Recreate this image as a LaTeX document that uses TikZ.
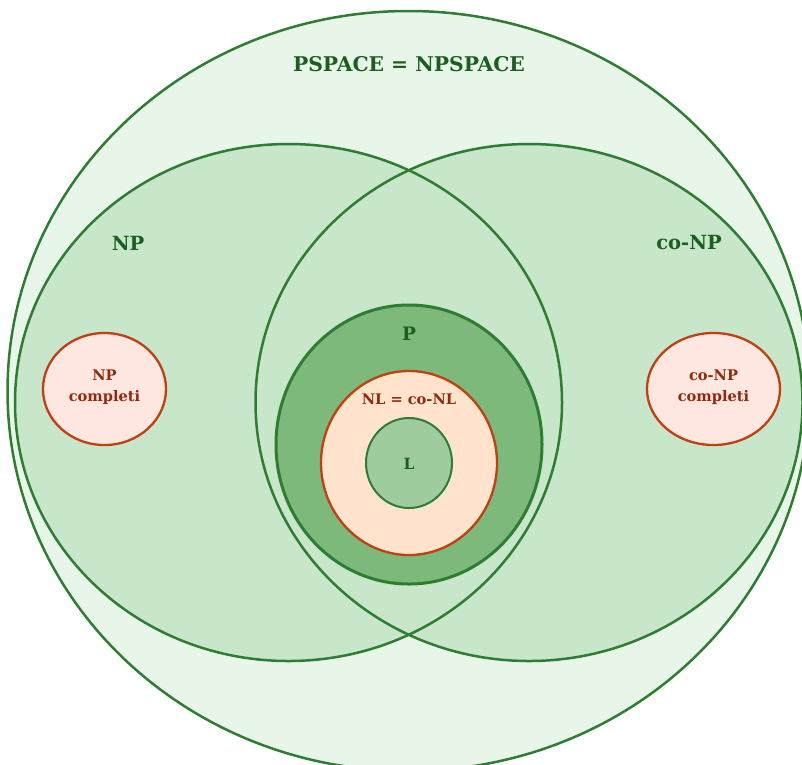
\documentclass[tikz,border=0pt]{standalone}
\usepackage{fontspec}
\setmainfont{DejaVu Serif}
\definecolor{gstroke}{HTML}{2E7D32}
\definecolor{gtext}{HTML}{1B5E20}
\definecolor{outerfill}{HTML}{E8F5E9}
\definecolor{npfill}{HTML}{C8E6C9}
\definecolor{pfill}{HTML}{7CB97A}
\definecolor{lfill}{HTML}{9FCC9C}
\definecolor{nlfill}{HTML}{FFE3CC}
\definecolor{cfill}{HTML}{FFE7E1}
\definecolor{rstroke}{HTML}{BF4010}
\definecolor{rtext}{HTML}{8F2A0C}
\begin{document}
\begin{tikzpicture}[x=1pt,y=-1pt,
  gline/.style={draw=gstroke,line width=2.5pt},
  rline/.style={draw=rstroke,line width=2.3pt},
  glabel/.style={text=gtext,font=\bfseries,inner sep=0pt},
  rlabel/.style={text=rtext,font=\bfseries\fontsize{14.6}{21}\selectfont,inner sep=0pt,align=center}]
\useasboundingbox (0,0) rectangle (802,764);
\clip (0,0) rectangle (802,764);
% outer
\path[fill=outerfill,gline] (408.5,391) ellipse [x radius=401,y radius=380];
% NP and co-NP fills
\path[fill=npfill] (288.5,402.5) ellipse [x radius=273.5,y radius=258.5];
\path[fill=npfill] (529,402.5) ellipse [x radius=273.5,y radius=258.5];
\path[gline] (288.5,402.5) ellipse [x radius=273.5,y radius=258.5];
\path[gline] (529,402.5) ellipse [x radius=273.5,y radius=258.5];
% P
\path[fill=pfill,draw=gstroke,line width=3pt] (409,444.5) ellipse [x radius=133,y radius=139.5];
% NL
\path[fill=nlfill,rline] (409,463) ellipse [x radius=88,y radius=92];
% L
\path[fill=lfill,draw=gstroke,line width=2pt] (409,463) ellipse [x radius=43,y radius=45];
% complete
\path[fill=cfill,rline] (104.5,389) ellipse [x radius=61.5,y radius=56];
\path[fill=cfill,rline] (713.5,389) ellipse [x radius=66.5,y radius=56];
% labels
\node[glabel,font=\bfseries\fontsize{20.3}{24}\selectfont] (pspace) at (409,64) {PSPACE = NPSPACE};
\node[glabel,font=\bfseries\fontsize{19.5}{24}\selectfont] (np) at (128,243) {NP};
\node[glabel,font=\bfseries\fontsize{19.5}{24}\selectfont] (conp) at (689,243) {co-NP};
\node[glabel,font=\bfseries\fontsize{18.5}{24}\selectfont] (p) at (409,334) {P};
\node[rlabel] (nl) at (409,399) {NL = co-NL};
\node[glabel,font=\bfseries\fontsize{15.5}{20}\selectfont] (l) at (409,464) {L};
\node[rlabel] (npc) at (104.5,387) {NP\\completi};
\node[rlabel] (conpc) at (713.5,387) {co-NP\\completi};
\end{tikzpicture}
\end{document}
